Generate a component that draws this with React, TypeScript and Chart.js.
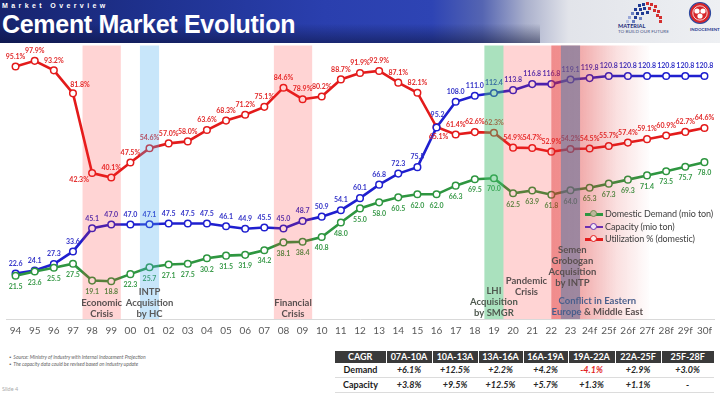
import React, { useEffect, useRef } from 'react';
import { Chart, registerables } from 'chart.js';

Chart.register(...registerables);

// ---------------- DATA ----------------
const YEARS = ['94', '95', '96', '97', '98', '99', '00', '01', '02', '03', '04', '05', '06', '07', '08', '09', '10', '11', '12', '13', '14', '15', '16', '17', '18', '19', '20', '21', '22', '23', '24f', '25f', '26f', '27f', '28f', '29f', '30f'];
const DEMAND = [21.5, 23.6, 25.5, 27.5, 19.1, 18.8, 22.3, 25.7, 27.1, 27.5, 30.2, 31.5, 31.9, 34.2, 38.1, 38.4, 40.8, 48.0, 55.0, 58.0, 60.5, 62.0, 62.0, 66.3, 69.5, 70.0, 62.5, 63.9, 61.8, 64.0, 65.3, 67.3, 69.3, 71.4, 73.5, 75.7, 78.0];
const CAPACITY = [22.6, 24.1, 27.3, 33.6, 45.1, 47.0, 47.0, 47.1, 47.5, 47.5, 47.5, 46.1, 44.9, 45.5, 45.0, 48.7, 50.9, 54.1, 60.1, 66.8, 72.3, 75.5, 95.2, 108.0, 111.0, 112.4, 113.8, 116.8, 116.8, 119.1, 119.8, 120.8, 120.8, 120.8, 120.8, 120.8, 120.8];
const UTILIZATION = [95.1, 97.9, 93.2, 81.8, 42.3, 40.1, 47.5, 54.6, 57.0, 58.0, 63.6, 68.3, 71.2, 75.1, 84.6, 78.9, 80.2, 88.7, 91.9, 92.9, 87.1, 82.1, 65.1, 61.4, 62.6, 62.3, 54.9, 54.7, 52.9, 54.2, 54.5, 55.7, 57.4, 59.1, 60.9, 62.7, 64.6];
const SERIES_NAMES = ['Domestic Demand (mio ton)', 'Capacity (mio ton)', 'Utilization % (domestic)'];

const EVENT_ECONOMIC = ['Economic', 'Crisis'];
const EVENT_INTP = ['INTP', 'Acquisition', 'by HC'];
const EVENT_FINANCIAL = ['Financial', 'Crisis'];
const EVENT_LHI = ['LHI', 'Acquisition', 'by SMGR'];
const EVENT_PANDEMIC = ['Pandemic', 'Crisis'];
const EVENT_GROBOGAN = ['Semen', 'Grobogan', 'Acquisition', 'by INTP'];
const EVENT_CONFLICT = ['Conflict in Eastern', 'Europe & Middle East'];

const CAGR_PERIODS = ['07A-10A', '10A-13A', '13A-16A', '16A-19A', '19A-22A', '22A-25F', '25F-28F'];
const CAGR_DEMAND = ['+6.1%', '+12.5%', '+2.2%', '+4.2%', '-4.1%', '+2.9%', '+3.0%'];
const CAGR_CAPACITY = ['+3.8%', '+9.5%', '+12.5%', '+5.7%', '+1.3%', '+1.1%', '-'];

// ---------------- STYLES ----------------
const GREEN = '#2e9640';
const BLUE = '#1f1fcf';
const RED = '#e31b1b';
const LABEL_COLORS = ['#3a9a4a', '#3434c8', '#e22a2a'];
const LABEL_DY = [11, -10, -10];
const LABEL_NUDGE: Record<string, [number, number]> = {
  '2-3': [7, -9],
  '2-4': [-13, 7],
  '2-22': [2, 10],
  '1-22': [1, -13],
};

type Band = { from: number; to: number; color: string };
const BANDS: Band[] = [
  { from: 3.5, to: 5.5, color: 'rgba(255,40,40,0.2)' },
  { from: 6.5, to: 7.5, color: 'rgba(72,172,238,0.3)' },
  { from: 13.5, to: 15.5, color: 'rgba(255,40,40,0.2)' },
  { from: 24.5, to: 25.5, color: 'rgba(66,188,111,0.45)' },
  { from: 25.5, to: 28.5, color: 'rgba(255,40,40,0.2)' },
];

type BandText = { at: number; lines: string[]; lastFromBottom: number; color: string };
const BAND_TEXTS: BandText[] = [
  { at: 4.5, lines: EVENT_ECONOMIC, lastFromBottom: 5.5, color: '#5a5050' },
  { at: 7, lines: EVENT_INTP, lastFromBottom: 5.5, color: '#5a5a5a' },
  { at: 14.5, lines: EVENT_FINANCIAL, lastFromBottom: 5.5, color: '#5a5050' },
  { at: 25, lines: EVENT_LHI, lastFromBottom: 6, color: '#505a50' },
  { at: 26.7, lines: EVENT_PANDEMIC, lastFromBottom: 27, color: '#5a5050' },
  { at: 29.1, lines: EVENT_GROBOGAN, lastFromBottom: 36.5, color: '#5a5050' },
];

const overlayPlugin = {
  id: 'overlay',
  afterDatasetsDraw(chart: any) {
    const { ctx, chartArea, scales } = chart;
    const { top, bottom } = chartArea;
    const x = scales.x;
    const px = (v: number) => x.getPixelForValue(v);

    // data labels
    ctx.save();
    ctx.font = 'bold 7px Lato';
    ctx.textAlign = 'center';
    ctx.textBaseline = 'middle';
    chart.data.datasets.forEach((ds: any, di: number) => {
      const meta = chart.getDatasetMeta(di);
      meta.data.forEach((pt: any, i: number) => {
        const v = ds.data[i] as number;
        const nudge = LABEL_NUDGE[`${di}-${i}`] || [0, LABEL_DY[di]];
        const txt = di === 2 ? v.toFixed(1) + '%' : v.toFixed(1);
        ctx.fillStyle = LABEL_COLORS[di];
        ctx.fillText(txt, pt.x + nudge[0], pt.y + nudge[1]);
      });
    });
    ctx.restore();

    // bands
    ctx.save();
    BANDS.forEach((b) => {
      ctx.fillStyle = b.color;
      const x0 = px(b.from);
      const x1 = px(b.to);
      ctx.fillRect(x0, top, x1 - x0, bottom - top);
    });
    // conflict gradient
    const gx0 = px(28.0);
    const gx1 = px(33.2);
    const grad = ctx.createLinearGradient(gx0, 0, gx1, 0);
    grad.addColorStop(0, 'rgba(220,40,40,0.42)');
    grad.addColorStop(0.3, 'rgba(220,40,40,0.38)');
    grad.addColorStop(0.65, 'rgba(220,40,40,0.15)');
    grad.addColorStop(1, 'rgba(220,40,40,0)');
    ctx.fillStyle = grad;
    ctx.fillRect(gx0, top, gx1 - gx0, bottom - top);
    // grobogan band
    ctx.fillStyle = 'rgba(90,105,150,0.55)';
    ctx.fillRect(px(28.5), top, px(29.5) - px(28.5), bottom - top);
    ctx.restore();

    // band texts
    ctx.save();
    ctx.font = 'bold 9.5px Lato';
    ctx.textAlign = 'center';
    ctx.textBaseline = 'middle';
    const LH = 11;
    BAND_TEXTS.forEach((t) => {
      ctx.fillStyle = t.color;
      const n = t.lines.length;
      t.lines.forEach((ln, k) => {
        ctx.fillText(ln, px(t.at), bottom - t.lastFromBottom - (n - 1 - k) * LH);
      });
    });
    // conflict text (two colours on 2nd line)
    const cx = px(30.4);
    ctx.fillStyle = '#4a5f8c';
    ctx.fillText(EVENT_CONFLICT[0], cx, bottom - 7.5 - LH);
    const l2 = EVENT_CONFLICT[1];
    const parts = ['Europe ', l2.slice('Europe '.length)];
    const w0 = ctx.measureText(parts[0]).width;
    const wAll = ctx.measureText(l2).width;
    ctx.textAlign = 'left';
    const sx = cx - wAll / 2;
    ctx.fillText(parts[0], sx, bottom - 7.5);
    ctx.fillStyle = '#5a4f4f';
    ctx.fillText(parts[1], sx + w0, bottom - 7.5);
    ctx.restore();
  },
};

const MATERIAL_SQUARES: [number, number, string][] = [
  [26, 4, '#1f3a93'], [30, 3, '#1f3a93'], [34, 2, '#d32f2f'], [38, 3, '#d32f2f'], [42, 5, '#d32f2f'],
  [22, 8, '#1f3a93'], [27, 8, '#1f3a93'], [31, 7, '#1f3a93'], [36, 7, '#d32f2f'], [41, 9, '#d32f2f'], [45, 10, '#d32f2f'],
  [19, 12, '#6a7fc0'], [24, 12, '#1f3a93'], [29, 12, '#1f3a93'], [34, 11, '#1f3a93'], [44, 14, '#d32f2f'], [47, 16, '#d32f2f'],
  [16, 16, '#9aa8d8'], [22, 16, '#1f3a93'], [27, 17, '#6a7fc0'], [14, 20, '#b8c2e4'], [20, 20, '#6a7fc0'], [47, 20, '#d32f2f'],
];

export default function App() {
  const ref = useRef<HTMLCanvasElement>(null);

  useEffect(() => {
    const canvas = ref.current;
    if (!canvas) return;
    const pointStyle = (color: string) => ({
      borderColor: color,
      backgroundColor: color,
      borderWidth: 2.6,
      pointRadius: 3.3,
      pointBorderWidth: 1.5,
      pointBackgroundColor: '#ffffff',
      pointBorderColor: color,
      tension: 0,
      fill: false,
    });
    const chart = new Chart(canvas, {
      type: 'line',
      data: {
        labels: YEARS,
        datasets: [
          { label: SERIES_NAMES[0], data: DEMAND, yAxisID: 'y', ...pointStyle(GREEN) },
          { label: SERIES_NAMES[1], data: CAPACITY, yAxisID: 'y', ...pointStyle(BLUE) },
          { label: SERIES_NAMES[2], data: UTILIZATION, yAxisID: 'y1', ...pointStyle(RED) },
        ],
      },
      options: {
        animation: false,
        responsive: false,
        layout: { padding: { left: 6, right: 6, top: 3, bottom: 7 } },
        plugins: { legend: { display: false }, tooltip: { enabled: false } },
        scales: {
          x: {
            offset: true,
            grid: { display: false, drawTicks: false },
            border: { display: true, color: '#d9d9d9', width: 1 },
            ticks: {
              color: '#595959',
              font: { family: 'Lato', size: 10 },
              padding: 6,
              autoSkip: false,
              maxRotation: 0,
            },
          },
          y: { display: false, min: 0, max: 136 },
          y1: { display: false, min: -30, max: 105.5 },
        },
      },
      plugins: [overlayPlugin],
    });
    return () => chart.destroy();
  }, []);

  const colW = [51, 46, 46, 45, 45, 47, 46, 53];
  const th: React.CSSProperties = {
    background: '#3a3a3a',
    color: '#fff',
    fontWeight: 700,
    fontSize: 9,
    height: 12,
    padding: 0,
    textAlign: 'center',
    borderRight: '1px solid #fff',
    lineHeight: '12px',
  };
  const td: React.CSSProperties = {
    fontSize: 9,
    fontWeight: 700,
    fontStyle: 'italic',
    color: '#262626',
    height: 14,
    padding: 0,
    textAlign: 'center',
    borderBottom: '1px solid #dcdcdc',
    lineHeight: '14px',
    background: '#fff',
  };
  const tdHead: React.CSSProperties = { ...td, fontStyle: 'normal', color: '#1a1a1a' };

  const legendItems = [
    { name: SERIES_NAMES[0], line: GREEN, fill: '#bdb79c', border: '#6f8a52' },
    { name: SERIES_NAMES[1], line: '#6a2fb0', fill: '#f1e8f4', border: '#6a2fb0' },
    { name: SERIES_NAMES[2], line: RED, fill: '#fbe7e7', border: RED },
  ];

  return (
    <div
      style={{
        position: 'fixed',
        left: 0,
        top: 0,
        width: 720,
        height: 396,
        background: '#fff',
        overflow: 'hidden',
        fontFamily: 'Lato, sans-serif',
      }}
    >
      {/* Banner */}
      <div
        style={{
          position: 'absolute',
          left: 0,
          top: 0,
          width: 720,
          height: 43,
          background:
            'linear-gradient(90deg, #17246e 0%, #1f3290 22%, #2a3fae 45%, #2e44b4 60%, #5565b2 67%, #aab0cc 73%, #e2e4ea 79%, #eef0f3 100%)',
        }}
      />
      <div
        style={{
          position: 'absolute',
          left: 0,
          top: 0,
          width: 540,
          height: 43,
          background: 'linear-gradient(180deg, rgba(0,0,0,0) 55%, rgba(8,14,50,0.5) 100%)',
        }}
      />
      <div
        style={{
          position: 'absolute',
          left: 2,
          top: 1,
          color: '#fff',
          fontFamily: '"Liberation Sans", Arial, sans-serif',
          fontWeight: 700,
          fontSize: 7,
          letterSpacing: 3.4,
          lineHeight: '9px',
        }}
      >
        Market Overview
      </div>
      <div
        style={{
          position: 'absolute',
          left: 2,
          top: 12,
          color: '#fff',
          fontFamily: '"Liberation Sans", Arial, sans-serif',
          fontWeight: 700,
          fontSize: 25,
          letterSpacing: -0.3,
          lineHeight: '25px',
          whiteSpace: 'nowrap',
        }}
      >
        Cement Market Evolution
      </div>
      <svg style={{ position: 'absolute', left: 612, top: 0 }} width={108} height={40}>
        {MATERIAL_SQUARES.map(([sx, sy, c], i) => (
          <rect key={i} x={sx} y={sy} width={3} height={3} fill={c} />
        ))}
        <text x={6} y={28} fontSize={5.6} fontWeight={700} fill="#1c2a7a" fontFamily="Lato">MATERIAL</text>
        <text x={6} y={33} fontSize={4.6} fill="#4a5688" fontFamily="Lato">TO BUILD OUR FUTURE</text>
        <circle cx={88} cy={13} r={10.5} fill="#d7262a" stroke="#2e4aa0" strokeWidth={1.2} />
        <circle cx={88} cy={13} r={7.2} fill="none" stroke="#fff" strokeWidth={0.8} />
        <circle cx={85} cy={11} r={2.6} fill="#fff" />
        <circle cx={91} cy={11} r={2.6} fill="#fff" />
        <circle cx={88} cy={16} r={2.6} fill="#fff" />
        <text x={78} y={31} fontSize={4.4} fontWeight={700} fill="#2a3a90" fontFamily="Lato">INDOCEMENT</text>
      </svg>

      {/* Chart */}
      <canvas ref={ref} width={720} height={310} style={{ position: 'absolute', left: 0, top: 40, width: 720, height: 310 }} />

      {/* Legend */}
      <div style={{ position: 'absolute', left: 585, top: 208 }}>
        {legendItems.map((it, i) => (
          <div key={i} style={{ display: 'flex', alignItems: 'center', height: 12.5 }}>
            <div style={{ position: 'relative', width: 18, height: 10, marginRight: 2 }}>
              <div style={{ position: 'absolute', left: 0, top: 4, width: 18, height: 2.5, background: it.line }} />
              <div
                style={{
                  position: 'absolute',
                  left: 5,
                  top: 1,
                  width: 5,
                  height: 5,
                  borderRadius: '50%',
                  background: it.fill,
                  border: `1.5px solid ${it.border}`,
                }}
              />
            </div>
            <span style={{ fontSize: 9, color: '#404040', whiteSpace: 'nowrap', lineHeight: '12px', letterSpacing: -0.1 }}>{it.name}</span>
          </div>
        ))}
      </div>

      {/* Footnotes */}
      <div style={{ position: 'absolute', left: 9, top: 354, fontSize: 5, fontStyle: 'italic', color: '#666', lineHeight: '6.5px' }}>
        <div>▪&nbsp; Source: Ministry of Industry with Internal Indocement Projection</div>
        <div>▪&nbsp; The capacity data could be revised based on industry update</div>
      </div>
      <div style={{ position: 'absolute', left: 2, top: 386, fontSize: 5.5, color: '#aaa' }}>Slide 4</div>

      {/* CAGR table */}
      <table
        style={{
          position: 'absolute',
          left: 335,
          top: 351,
          borderCollapse: 'collapse',
          tableLayout: 'fixed',
          fontFamily: 'Lato, sans-serif',
        }}
      >
        <colgroup>
          {colW.map((w, i) => (
            <col key={i} style={{ width: w }} />
          ))}
        </colgroup>
        <tbody>
          <tr>
            <td style={th}>CAGR</td>
            {CAGR_PERIODS.map((p, i) => (
              <td key={i} style={{ ...th, borderRight: i === CAGR_PERIODS.length - 1 ? 'none' : th.borderRight }}>{p}</td>
            ))}
          </tr>
          <tr>
            <td style={tdHead}>Demand</td>
            {CAGR_DEMAND.map((v, i) => (
              <td key={i} style={{ ...td, color: v.startsWith('-') ? '#e21f1f' : td.color }}>{v}</td>
            ))}
          </tr>
          <tr>
            <td style={tdHead}>Capacity</td>
            {CAGR_CAPACITY.map((v, i) => (
              <td key={i} style={td}>{v}</td>
            ))}
          </tr>
        </tbody>
      </table>
    </div>
  );
}
